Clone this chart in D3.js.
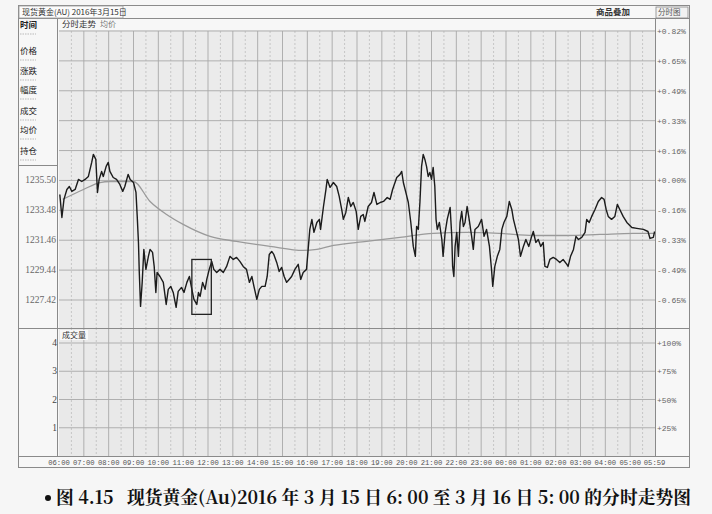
<!DOCTYPE html>
<html><head><meta charset="utf-8">
<script src="https://cdn.jsdelivr.net/npm/d3@7"></script>
<style>
html,body{margin:0;padding:0;background:#f6f6f6;}
svg{display:block;}
</style></head>
<body>
<svg id="c" width="712" height="514"></svg>
<script>
// ---------- DATA ----------
// minutes since 06:00 (trading day 2016-03-15 06:00 to 2016-03-16 05:59)
const priceTimes = [2,7,12,19,25,31,39,47,55,63,71,79,83,89,93,97,103,107,114,119,123,131,139,147,154,159,167,172,180,186,
189,192,194,197,201,205,210,216,220,226,230,234,237,244,252,259,264,270,276,283,288,296,302,309,315,321,326,333,337,341,
347,353,357,363,369,374,381,389,397,405,413,421,429,437,445,453,460,466,471,478,484,490,498,503,508,514,519,526,532,538,
544,550,556,562,570,578,584,590,598,606,611,616,623,629,632,639,645,648,655,663,671,677,683,687,693,699,705,711,718,723,
729,735,739,747,755,761,768,776,784,793,800,806,816,824,828,832,838,844,850,856,861,864,868,872,876,880,884,888,892,896,
900,904,908,911,914,919,925,928,933,938,945,949,951,954,957,961,965,969,973,977,981,986,991,997,1001,1005,1013,1021,1027,1033,
1040,1045,1048,1053,1059,1065,1070,1075,1082,1088,1094,1098,1104,1110,1115,1122,1128,1135,1142,1146,1152,1158,1164,1170,1174,1180,
1186,1194,1202,1210,1218,1227,1230,1236,1243,1249,1255,1263,1271,1275,1281,1287,1295,1303,1311,1317,1322,1327,1335,1343,1349,1355,
1363,1372,1384,1396,1412,1423,1428,1436,1439];
const priceValues = [1234.55,1233.00,1234.22,1234.89,1235.09,1234.76,1234.89,1235.57,1235.43,1235.57,1235.77,1236.72,1237.26,1236.92,1234.69,1235.57,1236.11,1235.77,1236.45,1236.72,1236.11,1235.70,1235.57,1235.23,1234.76,1235.09,1235.91,1235.57,1235.36,1234.69,
1233.07,1231.31,1229.28,1226.99,1228.61,1230.84,1229.49,1230.37,1230.84,1230.64,1229.69,1227.93,1229.28,1229.01,1228.61,1227.12,1228.14,1228.34,1227.93,1226.92,1228.00,1228.27,1227.93,1228.61,1229.01,1228.14,1227.46,1227.12,1227.93,1227.66,
1228.61,1228.14,1228.81,1229.49,1230.03,1229.49,1229.28,1229.49,1229.28,1229.69,1230.37,1230.16,1230.30,1230.03,1229.69,1229.49,1228.61,1229.01,1228.34,1227.46,1228.14,1228.34,1228.34,1229.01,1230.50,1230.70,1230.50,1229.96,1229.35,1229.62,
1229.01,1228.61,1228.81,1229.01,1229.49,1229.83,1228.81,1229.28,1229.49,1232.19,1232.87,1231.99,1232.66,1232.87,1232.19,1233.74,1234.89,1235.57,1235.03,1235.36,1235.09,1234.42,1233.54,1232.87,1233.34,1234.35,1233.74,1234.01,1233.41,1232.19,
1233.07,1233.20,1232.73,1233.74,1234.01,1234.69,1233.88,1234.01,1234.08,1234.35,1234.22,1234.89,1235.70,1235.91,1236.11,1235.36,1234.69,1234.01,1232.66,1231.04,1230.37,1232.39,1232.19,1234.01,1236.45,1237.26,1236.92,1236.45,1235.77,1236.04,
1235.57,1236.38,1235.09,1232.87,1232.19,1232.66,1231.51,1230.37,1231.99,1232.87,1233.68,1231.72,1229.69,1229.01,1231.04,1231.99,1230.37,1232.66,1233.41,1232.39,1232.66,1233.74,1232.87,1231.72,1230.84,1232.19,1232.39,1232.87,1231.72,1232.19,
1231.04,1229.49,1228.34,1229.69,1230.37,1230.84,1232.19,1232.66,1233.07,1234.08,1233.54,1232.87,1232.19,1231.51,1230.37,1231.04,1231.51,1231.04,1231.72,1232.05,1231.31,1231.51,1231.04,1231.31,1229.69,1229.62,
1230.16,1230.30,1230.16,1229.96,1230.16,1229.83,1229.69,1230.37,1230.84,1231.72,1231.51,1231.65,1231.99,1232.87,1232.66,1233.07,1233.54,1234.08,1234.35,1234.22,1233.54,1233.07,1232.87,1233.07,1233.88,1233.54,
1233.07,1232.66,1232.32,1232.26,1232.19,1232.05,1231.58,1231.65,1232.05];
const avgTimes  = [9,59,99,123,180,220,260,300,365,429,510,590,623,663,743,824,904,985,1065,1146,1227,1307,1388,1439];
const avgValues = [1234.22,1234.89,1235.36,1235.43,1235.43,1234.08,1233.20,1232.53,1231.72,1231.38,1231.04,1230.77,1230.84,1231.11,1231.38,1231.65,1231.92,1231.99,1231.92,1231.78,1231.78,1231.85,1231.92,1231.92];

const basePrice   = 1235.50;          // previous close (0.00%)
const gridPrices  = [1245.60,1243.58,1241.56,1239.54,1237.52,1235.50,1233.48,1231.46,1229.44,1227.42];
const leftTickPrices = [1235.50,1233.48,1231.46,1229.44,1227.42];
const volTicks    = [1,2,3,4];
const volPctLabels= ["+25%","+50%","+75%","+100%"];
const hourMinutes = [0,60,120,180,240,300,360,420,480,540,600,660,720,780,840,900,960,1020,1080,1140,1200,1260,1320,1380,1439];
const hourLabels  = ["06:00","07:00","08:00","09:00","10:00","11:00","12:00","13:00","14:00","15:00","16:00","17:00","18:00",
                     "19:00","20:00","21:00","22:00","23:00","00:00","01:00","02:00","03:00","04:00","05:00","05:59"];
const infoLabels  = ["时间","价格","涨跌","幅度","成交","均价","持仓"];
const highlightBox = {t0:321, t1:368, hi:1230.16, lo:1226.45};
const titleText   = "现货黄金(AU) 2016年3月15日";
const captionText = "图 4.15   现货黄金(Au)2016 年 3 月 15 日 6: 00 至 3 月 16 日 5: 00 的分时走势图";

// ---------- LAYOUT ----------
const L = 18, R = 690, T = 5, B = 468;
const pL = 59, pR = 655;
const titleB = 18, mainTop = 31, mainBot = 328, volBot = 456;

const svg = d3.select("#c");
const cjk = "'Noto Sans CJK SC','Noto Sans',sans-serif";
const mono = "'Liberation Mono','DejaVu Sans Mono',monospace";
const serifMono = "'Liberation Serif','DejaVu Serif',serif";

const x = d3.scaleLinear().domain([0,1440]).range([pL,pR]);
const y = d3.scaleLinear().domain([1227.42,1245.60]).range([300,mainTop]);
const yv = d3.scaleLinear().domain([0,4]).range([volBot,343]);

// backgrounds
svg.append("rect").attr("x",L).attr("y",T).attr("width",R-L).attr("height",B-T).attr("fill","#f7f7f7");
svg.append("rect").attr("x",pL).attr("y",titleB+12).attr("width",pR-pL).attr("height",mainBot-titleB-12).attr("fill","#ebebeb");
svg.append("rect").attr("x",pL).attr("y",mainBot).attr("width",pR-pL).attr("height",volBot-mainBot).attr("fill","#e9e9e9");

const g = svg.append("g");

// vertical grid (hour solid, half hour dashed)
const halfHours = d3.range(30,1440,60);
[[mainTop,mainBot],[mainBot,volBot]].forEach(([a,b])=>{
  g.selectAll(null).data(halfHours).enter().append("line")
    .attr("x1",d=>x(d)).attr("x2",d=>x(d)).attr("y1",a).attr("y2",b)
    .attr("stroke","#bdbdbd").attr("stroke-width",0.8).attr("stroke-dasharray","2,2");
  g.selectAll(null).data(hourMinutes.slice(1,-1)).enter().append("line")
    .attr("x1",d=>x(d)).attr("x2",d=>x(d)).attr("y1",a).attr("y2",b)
    .attr("stroke","#a8a8a8").attr("stroke-width",0.9);
});
// horizontal grid (main)
g.selectAll(null).data(gridPrices).enter().append("line")
  .attr("x1",pL).attr("x2",pR).attr("y1",d=>y(d)).attr("y2",d=>y(d))
  .attr("stroke","#a8a8a8").attr("stroke-width",0.9);
// horizontal grid (volume)
g.selectAll(null).data(volTicks).enter().append("line")
  .attr("x1",pL).attr("x2",pR).attr("y1",d=>yv(d)).attr("y2",d=>yv(d))
  .attr("stroke","#a8a8a8").attr("stroke-width",0.9);

// average line
const avgData = avgTimes.map((t,i)=>[t,avgValues[i]]);
svg.append("path").datum(avgData)
  .attr("d",d3.line().x(d=>x(d[0])).y(d=>y(d[1])).curve(d3.curveMonotoneX))
  .attr("fill","none").attr("stroke","#9a9a9a").attr("stroke-width",1.3);

// price line
const priceData = priceTimes.map((t,i)=>[t,priceValues[i]]);
svg.append("path").datum(priceData)
  .attr("d",d3.line().x(d=>x(d[0])).y(d=>y(d[1])))
  .attr("fill","none").attr("stroke","#1c1c1c").attr("stroke-width",1.4).attr("stroke-linejoin","round");

// highlight box
svg.append("rect")
  .attr("x",x(highlightBox.t0)).attr("y",y(highlightBox.hi))
  .attr("width",x(highlightBox.t1)-x(highlightBox.t0)).attr("height",y(highlightBox.lo)-y(highlightBox.hi))
  .attr("fill","none").attr("stroke","#222").attr("stroke-width",1.3);

// frame lines
const fr = svg.append("g").attr("stroke","#8a8a8a").attr("stroke-width",1).attr("fill","none");
fr.append("rect").attr("x",L+0.5).attr("y",T+0.5).attr("width",R-L-1).attr("height",B-T-1);
fr.append("line").attr("x1",L).attr("x2",R).attr("y1",titleB+0.5).attr("y2",titleB+0.5);
fr.append("line").attr("x1",57.5).attr("x2",57.5).attr("y1",titleB).attr("y2",volBot);
fr.append("line").attr("x1",pR+0.5).attr("x2",pR+0.5).attr("y1",titleB).attr("y2",volBot);
fr.append("line").attr("x1",L).attr("x2",R).attr("y1",mainBot+0.5).attr("y2",mainBot+0.5);
fr.append("line").attr("x1",L).attr("x2",R).attr("y1",volBot+0.5).attr("y2",volBot+0.5);
fr.append("line").attr("x1",L).attr("x2",57).attr("y1",165.5).attr("y2",165.5);

// title bar
svg.append("rect").attr("x",L+1).attr("y",T+1).attr("width",104).attr("height",titleB-T-1)
  .attr("fill","#fbfbfb").attr("stroke","#999").attr("stroke-width",0.8);
svg.append("text").attr("x",L+4).attr("y",15).text(titleText)
  .attr("font-family",cjk).attr("font-size",8).attr("fill","#333");
svg.append("text").attr("x",596).attr("y",15).text("商品叠加")
  .attr("font-family",cjk).attr("font-size",8.5).attr("font-weight","bold").attr("fill","#333");
svg.append("rect").attr("x",656).attr("y",T+2).attr("width",32).attr("height",11)
  .attr("fill","#f2f2f2").attr("stroke","#888").attr("stroke-width",0.8);
svg.append("text").attr("x",658).attr("y",15).text("分时图")
  .attr("font-family",cjk).attr("font-size",7.5).attr("fill","#555");

// main header
svg.append("text").attr("x",62).attr("y",27).text("分时走势")
  .attr("font-family",cjk).attr("font-size",8.5).attr("fill","#333");
svg.append("text").attr("x",100).attr("y",27).text("均价")
  .attr("font-family",cjk).attr("font-size",8).attr("fill","#777");

// info labels
const infoY = [28,54,74,93,114,133,154];
infoLabels.forEach((s,i)=>{
  svg.append("text").attr("x",20).attr("y",infoY[i]).text(s)
    .attr("font-family",cjk).attr("font-size",8.5).attr("font-weight", i===0?"bold":"normal").attr("fill","#222");
  svg.append("line").attr("x1",20).attr("x2",36).attr("y1",infoY[i]+6).attr("y2",infoY[i]+6)
    .attr("stroke","#aaa").attr("stroke-width",0.8).attr("stroke-dasharray","1.5,1");
});

// left price labels
svg.selectAll(null).data(leftTickPrices).enter().append("text")
  .attr("x",56).attr("y",d=>y(d)+3).attr("text-anchor","end")
  .text(d=>d.toFixed(2)).attr("font-family",serifMono).attr("font-size",9.5).attr("fill","#666");
// right pct labels
svg.selectAll(null).data(gridPrices).enter().append("text")
  .attr("x",657).attr("y",d=>y(d)+3)
  .text(d=>{const p=(d/basePrice-1)*100; const r=Math.round(p*100)/100; return (r<0?"-":"+")+Math.abs(r).toFixed(2)+"%";})
  .attr("font-family",mono).attr("font-size",8).attr("fill","#666");

// volume panel header
svg.append("rect").attr("x",60).attr("y",mainBot+2).attr("width",28).attr("height",10).attr("fill","#f8f8f8");
svg.append("text").attr("x",62).attr("y",mainBot+10).text("成交量")
  .attr("font-family",cjk).attr("font-size",8).attr("fill","#333");
svg.selectAll(null).data(volTicks).enter().append("text")
  .attr("x",57).attr("y",d=>yv(d)+3).attr("text-anchor","end")
  .text(d=>d).attr("font-family",serifMono).attr("font-size",9.5).attr("fill","#444");
svg.selectAll(null).data(volTicks).enter().append("text")
  .attr("x",657).attr("y",d=>yv(d)+3)
  .text((d,i)=>volPctLabels[i]).attr("font-family",mono).attr("font-size",8).attr("fill","#666");

// time axis labels
svg.selectAll(null).data(hourMinutes).enter().append("text")
  .attr("x",d=>x(d)).attr("y",465).attr("text-anchor","middle")
  .text((d,i)=>hourLabels[i]).attr("font-family",mono).attr("font-size",7.2).attr("fill","#555");

// caption
svg.append("circle").attr("cx",48).attr("cy",498).attr("r",3).attr("fill","#111");
svg.append("text").attr("x",56).attr("y",504).text(captionText)
  .attr("font-family","'Noto Serif CJK SC','Noto Sans CJK SC',serif").attr("font-size",17.8).attr("font-weight","bold").attr("fill","#111")
  .style("white-space","pre");
</script>
</body></html>
